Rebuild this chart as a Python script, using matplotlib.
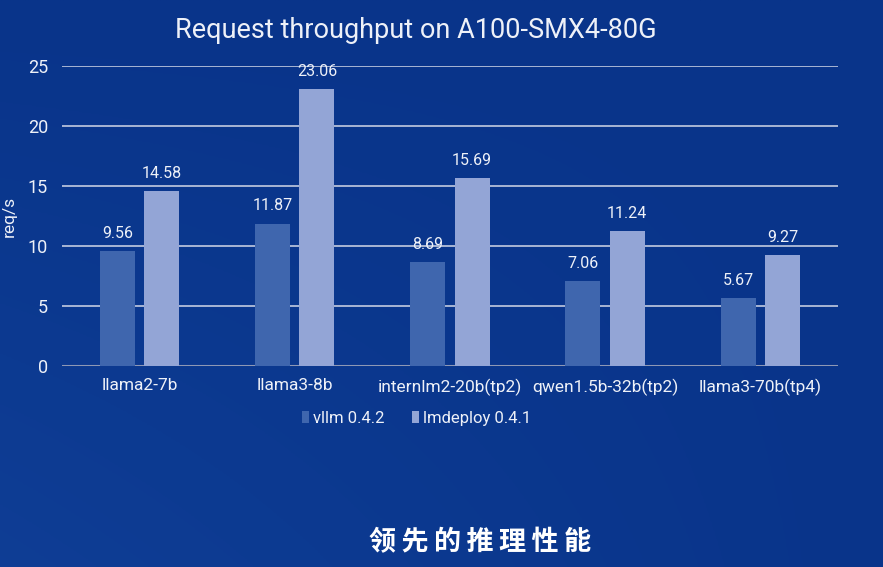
import numpy as np
import matplotlib
matplotlib.use('Agg')
import matplotlib.pyplot as plt

plt.rcParams['font.family'] = ['Roboto', 'DejaVu Sans']

# chart data
models = ['llama2-7b', 'llama3-8b', 'internlm2-20b(tp2)', 'qwen1.5b-32b(tp2)', 'llama3-70b(tp4)']
vllm = [9.56, 11.87, 8.69, 7.06, 5.67]
lmdeploy = [14.58, 23.06, 15.69, 11.24, 9.27]
series_names = ['vllm 0.4.2', 'lmdeploy 0.4.1']
yticks = [0, 5, 10, 15, 20, 25]

VLLM_COLOR = '#3f66ae'
LMD_COLOR = '#93a5d6'
TEXT_COLOR = '#eef1f8'

fig = plt.figure(figsize=(8.83, 5.67), dpi=100)
fig.patch.set_facecolor('#0a368c')

# background: nearly flat blue, a touch lighter to the bottom left
bg = fig.add_axes([0, 0, 1, 1], zorder=-10)
yy, xx = np.mgrid[0:1:200j, 0:1:300j]
shade = np.clip((1 - xx) * yy * 0.8, 0, 1)
c_dark = np.array([0x09, 0x34, 0x8a]) / 255
c_light = np.array([0x10, 0x40, 0x98]) / 255
img = c_dark + (c_light - c_dark) * shade[..., None]
bg.imshow(img, aspect='auto', extent=[0, 1, 0, 1], origin='upper')
bg.axis('off')

ax = fig.add_axes([0.0702, 0.3545, 0.8787, 0.5291])
ax.set_facecolor('none')

x = np.arange(len(models))
w = 0.225
off = 0.143
b1 = ax.bar(x - off, vllm, w, color=VLLM_COLOR, label=series_names[0], zorder=3)
b2 = ax.bar(x + off, lmdeploy, w, color=LMD_COLOR, label=series_names[1], zorder=3)

for bars, vals in ((b1, vllm), (b2, lmdeploy)):
    for bar, v in zip(bars, vals):
        ax.text(bar.get_x() + bar.get_width() / 2, v + 0.85, f'{v:.2f}',
                ha='center', va='bottom', color=TEXT_COLOR, fontsize=11.5, zorder=4)

ax.set_xlim(-0.5, len(models) - 0.5)
ax.set_ylim(0, 25)
ax.set_yticks(yticks)
ax.set_xticks(x)
ax.set_xticklabels(models, fontsize=12.5, color=TEXT_COLOR)
ax.tick_params(axis='y', labelsize=13, labelcolor=TEXT_COLOR, length=0, pad=10)
ax.tick_params(axis='x', length=0, pad=9)
for t in yticks[1:]:
    ax.axhline(t, color='#c3cbe0', lw=1.2, zorder=1)
for s in ax.spines.values():
    s.set_visible(False)
ax.axhline(0, color='#8e98b5', lw=2.2, zorder=2)

ax.set_ylabel('req/s', color=TEXT_COLOR, fontsize=12.5)
ax.yaxis.set_label_coords(-0.058, 0.5)

ax.set_title('Request throughput on A100-SMX4-80G', color=TEXT_COLOR, fontsize=19.5,
             pad=20, x=0.456)

leg = ax.legend(loc='upper center', bbox_to_anchor=(0.457, -0.1), ncol=2,
                frameon=False, fontsize=12, labelcolor=TEXT_COLOR,
                handlelength=0.45, handleheight=0.7, handletextpad=0.25,
                columnspacing=1.6)

fig.text(0.544, 0.043, '领\u2009先\u2009的\u2009推\u2009理\u2009性\u2009能', ha='center',
         va='center', color='white', fontsize=19.5, fontweight='bold',
         family=['Noto Sans CJK SC', 'DejaVu Sans'])

fig.savefig('out.png', dpi=100, facecolor=fig.get_facecolor())
